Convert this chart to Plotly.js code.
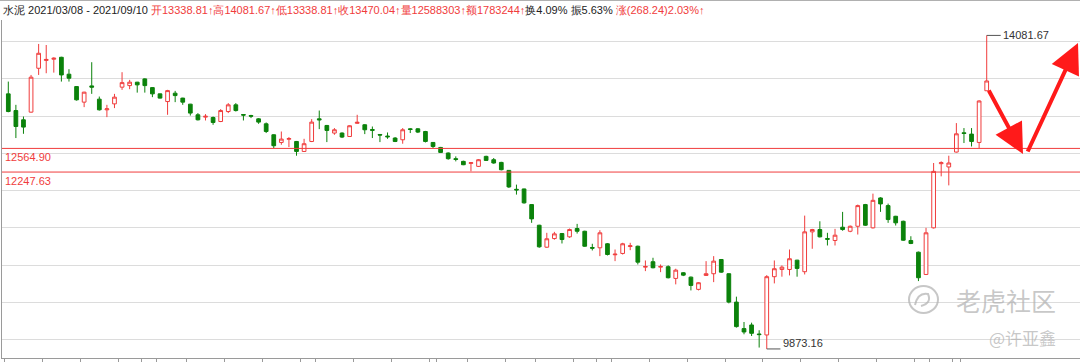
<!DOCTYPE html>
<html>
<head>
<meta charset="utf-8">
<script src="https://cdn.plot.ly/plotly-3.0.1.min.js"></script>
<style>
  html, body { margin: 0; padding: 0; background: #ffffff; }
  #chart { width: 1080px; height: 362px; }
</style>
</head>
<body>
<div id="chart"></div>
<script>
// ---------- trading calendar (2021) ----------
const tradingDays = [
  ['03', [8,9,10,11,12,15,16,17,18,19,22,23,24,25,26,29,30,31]],
  ['04', [1,2,6,7,8,9,12,13,14,15,16,19,20,21,22,23,26,27,28,29,30]],
  ['05', [6,7,10,11,12,13,14,17,18,19,20,21,24,25,26,27,28,31]],
  ['06', [1,2,3,4,7,8,9,10,11,15,16,17,18,21,22,23,24,25,28,29,30]],
  ['07', [1,2,5,6,7,8,9,12,13,14,15,16,19,20,21,22,23,26,27,28,29,30]],
  ['08', [2,3,4,5,6,9,10,11,12,13,16,17,18,19,20,23,24,25,26,27,30,31]],
  ['09', [1,2,3,6,7,8,9,10]]
];
const dates = [];
tradingDays.forEach(([m, days]) => days.forEach(d => dates.push('2021-' + m + '-' + String(d).padStart(2, '0'))));

// ---------- OHLC values ----------
const openV = [
  13297,13073,12949,13052,13641,13746,13762,13788,13561,13395,
  13186,13404,13226,13083,13163,13387,13408,13454,13498,13381,
  13297,13194,13306,13240,13159,13016,12985,12980,12926,13060,
  13150,13020,13006,12962,12895,12748,12645,12688,12658,12524,
  12658,12962,12873,12771,12771,12725,12902,12882,12819,12752,
  12731,12704,12681,12828,12828,12792,12645,12578,12503,12427,
  12391,12364,12324,12458,12413,12377,12270,12016,12021,11811,
  11534,11239,11355,11422,11378,11490,11453,11235,11231,11285,
  11137,11155,11248,11252,10971,11044,10971,10977,10820,10896,
  10837,10673,10860,10883,11074,10883,10502,10146,10195,10074,
  10061,10843,10940,10940,11065,10910,11445,11476,11355,11329,
  11507,11453,11520,11811,11499,11900,11797,11654,11587,11329,
  11172,10873,11499,12360,12316,12516,12775,12757,12645,13338.81
];
const highV = [
  13462,13150,12993,13551,13967,13953,13788,13795,13628,13400,
  13325,13722,13261,13150,13297,13588,13485,13458,13507,13386,
  13300,13351,13337,13245,13163,13039,13025,12993,13092,13173,
  13173,13025,13016,12972,12913,12755,12792,12717,12665,12694,
  12958,13073,12880,12838,12780,12875,13016,12890,12859,12757,
  12779,12717,12838,12838,12838,12800,12650,12585,12511,12458,
  12400,12380,12422,12467,12436,12385,12275,12079,12025,11815,
  11540,11432,11445,11430,11490,11552,11460,11285,11467,11295,
  11208,11298,11298,11260,11061,11097,11007,10995,10950,10904,
  10845,10770,11052,11119,11080,10890,10575,10235,10226,10124,
  10864,11061,10994,11208,11070,11663,11485,11587,11432,11485,
  11713,11530,11811,11820,11958,11910,11824,11660,11595,11386,
  11180,11499,12369,12391,12467,12905,12838,12838,13210,14081.67
];
const lowV = [
  13050,12704,12761,13045,13551,13574,13582,13462,13462,13207,
  13119,13297,13073,12985,13106,13351,13360,13314,13314,13253,
  13235,13016,13186,13150,13006,12940,12940,12882,12918,13039,
  13060,12940,12972,12895,12771,12570,12614,12583,12467,12520,
  12650,12824,12650,12748,12704,12718,12895,12757,12704,12650,
  12694,12650,12628,12771,12771,12645,12570,12505,12413,12391,
  12340,12257,12315,12396,12360,12270,12034,11945,11824,11566,
  11231,11230,11340,11289,11365,11422,11244,11195,11119,11128,
  11052,11141,11199,11007,10918,10955,10904,10820,10740,10851,
  10659,10659,10855,10770,10895,10485,10160,10070,10047,9892,
  9873.16,10753,10843,10860,10843,10873,11218,11370,11262,11262,
  11460,11440,11409,11525,11490,11713,11566,11530,11325,11280,
  10784,10865,11490,12190,12069,12510,12637,12591,12570,13338.81
];
const closeV = [
  13060,12859,12851,13521,13842,13759,13775,13551,13507,13217,
  13320,13387,13083,13096,13253,13448,13454,13418,13408,13297,
  13240,13341,13274,13186,13039,12949,12996,12913,13073,13150,
  13073,13012,12998,12918,12792,12601,12690,12697,12524,12628,
  12918,12949,12806,12815,12717,12869,12915,12815,12808,12744,
  12721,12658,12815,12819,12784,12658,12591,12511,12427,12417,
  12346,12373,12413,12404,12369,12279,12048,12008,11834,11619,
  11244,11352,11418,11342,11476,11453,11252,11226,11432,11141,
  11145,11285,11258,11038,10980,10963,10980,10829,10931,10864,
  10726,10762,10883,11052,10904,10502,10173,10101,10083,10066,
  10843,10950,10971,11084,10954,11445,11476,11378,11346,11400,
  11476,11520,11797,11534,11868,11820,11610,11566,11333,11289,
  10829,11432,12257,12373,12369,12761,12765,12658,13201.8,13470.04
];

// reference levels drawn as red lines
const levels = [12564.90, 12247.63];
// horizontal grid values
const yGrid = [10000, 10500, 11000, 11500, 12000, 12500, 13000, 13500, 14000];
// x-axis ticks (first trading day of each week / month)
const tickDates = ['2021-03-08','2021-03-15','2021-03-22','2021-03-29','2021-04-01','2021-04-06','2021-04-12',
  '2021-04-19','2021-04-26','2021-05-06','2021-05-10','2021-05-17','2021-05-24','2021-05-31','2021-06-01',
  '2021-06-07','2021-06-15','2021-06-21','2021-06-28','2021-07-01','2021-07-05','2021-07-12','2021-07-19',
  '2021-07-26','2021-08-02','2021-08-09','2021-08-16','2021-08-23','2021-08-30','2021-09-01','2021-09-06'];
const tickLabels = ['2021','','','','04','','','','','05','','','','','06','','','','','07','','','','','08','','','','','09',''];

// header text
const title = '水泥';
const period = '2021/03/08 - 2021/09/10';
const hdrRed1 = '开13338.81↑高14081.67↑低13338.81↑收13470.04↑量12588303↑额1783244↑';
const hdrDark = '换4.09% 振5.63%';
const hdrRed2 = '涨(268.24)2.03%↑';

const RED = '#f03c3c';
const GREEN = '#0b820b';

// helpers for extreme labels
const hiIdx = highV.indexOf(Math.max(...highV));
const loIdx = lowV.indexOf(Math.min(...lowV));

const trace = {
  type: 'candlestick',
  x: dates,
  open: openV, high: highV, low: lowV, close: closeV,
  increasing: { line: { color: RED, width: 1 }, fillcolor: '#ffffff' },
  decreasing: { line: { color: GREEN, width: 1 }, fillcolor: GREEN },
  whiskerwidth: 0,
  hoverinfo: 'none',
  showlegend: false
};

const FONT = 'Liberation Sans, Arial, sans-serif';
const CJK = 'Noto Sans CJK SC, Liberation Sans, sans-serif';
const px = v => (v - 2) / 1078;      // pixel x -> paper x
const py = v => (358 - v) / 338;     // pixel y -> paper y
const WM = 'rgba(175,175,175,0.7)';

const shapes = [];
levels.forEach(v => shapes.push({
  type: 'line', xref: 'paper', x0: 0, x1: 1, yref: 'y', y0: v, y1: v,
  line: { color: RED, width: 1 }, layer: 'above'
}));
// top frame line
shapes.push({ type: 'line', xref: 'paper', x0: -0.01, x1: 1.01, yref: 'paper', y0: py(0.5), y1: py(0.5),
  line: { color: '#b0b0b0', width: 1 } });
// low label leader
shapes.push({ type: 'line', xref: 'x', x0: loIdx, x1: loIdx + 1.8, yref: 'y', y0: lowV[loIdx], y1: lowV[loIdx],
  line: { color: '#555555', width: 1 } });
// watermark logo
shapes.push({ type: 'circle', xref: 'paper', yref: 'paper', layer: 'above',
  x0: px(909), x1: px(938), y0: py(313), y1: py(286),
  line: { color: WM, width: 2 } });
shapes.push({ type: 'path', xref: 'paper', yref: 'paper', layer: 'above',
  path: 'M ' + px(915) + ',' + py(305) + ' Q ' + px(918) + ',' + py(292) + ' ' + px(928) + ',' + py(294) +
        ' Q ' + px(932) + ',' + py(303) + ' ' + px(921) + ',' + py(306),
  line: { color: WM, width: 2 } });

const annotations = [
  {
    xref: 'paper', yref: 'paper', x: 0, y: 1, xanchor: 'left', yanchor: 'bottom', xshift: -1, yshift: 2,
    showarrow: false, align: 'left',
    font: { family: FONT, size: 11, color: '#222222' },
    text: title + ' ' + period + ' <span style="color:' + RED + '">' + hdrRed1 + '</span>' + hdrDark +
          ' <span style="color:' + RED + '">' + hdrRed2 + '</span>'
  },
  {
    xref: 'x', yref: 'y', x: hiIdx, y: highV[hiIdx], showarrow: true, arrowhead: 0, arrowwidth: 1,
    arrowcolor: '#555555', ax: 14, ay: 0, xanchor: 'left', yanchor: 'middle', standoff: 0,
    text: highV[hiIdx].toFixed(2), font: { family: FONT, size: 11, color: '#333333' }
  },
  {
    xref: 'x', yref: 'y', x: loIdx + 1.9, y: lowV[loIdx], showarrow: false, xanchor: 'left', yanchor: 'middle',
    yshift: 6, text: lowV[loIdx].toFixed(2), font: { family: FONT, size: 11, color: '#333333' }
  },
  // hand-drawn style arrows
  {
    xref: 'paper', yref: 'paper', x: px(1023), y: py(154), ax: -35, ay: -65,
    showarrow: true, arrowhead: 2, arrowsize: 1.5, arrowwidth: 4, arrowcolor: '#ff1a1a', text: '', standoff: 0
  },
  {
    xref: 'paper', yref: 'paper', x: px(1078), y: py(43), ax: -51, ay: 110,
    showarrow: true, arrowhead: 2, arrowsize: 1.5, arrowwidth: 4, arrowcolor: '#ff1a1a', text: '', standoff: 0
  },
  // watermark
  {
    xref: 'paper', yref: 'paper', x: px(1006), y: py(300), xanchor: 'center', yanchor: 'middle', showarrow: false,
    text: '老虎社区', font: { family: CJK, size: 25, color: WM }
  },
  {
    xref: 'paper', yref: 'paper', x: px(1022), y: py(337), xanchor: 'center', yanchor: 'middle', showarrow: false,
    text: '@许亚鑫', font: { family: CJK, size: 17, color: WM }
  }
];
levels.forEach(v => annotations.push({
  xref: 'paper', yref: 'y', x: 0, y: v, xanchor: 'left', yanchor: 'top', xshift: 1, yshift: -1,
  showarrow: false, text: v.toFixed(2), font: { family: FONT, size: 11, color: RED }
}));

const layout = {
  width: 1080, height: 362,
  margin: { l: 2, r: 0, t: 20, b: 4, pad: 0 },
  paper_bgcolor: '#ffffff', plot_bgcolor: '#ffffff',
  showlegend: false, hovermode: false, dragmode: false,
  font: { family: FONT, size: 11, color: '#333333' },
  xaxis: {
    type: 'category', range: [-0.83, 141.3], rangeslider: { visible: false },
    showgrid: false, zeroline: false, showline: true, linecolor: '#9a9a9a', linewidth: 1,
    ticks: 'outside', ticklen: 4, tickcolor: '#9a9a9a', tickson: 'boundaries',
    tickmode: 'array', tickvals: tickDates, ticktext: tickLabels,
    tickfont: { family: FONT, size: 11, color: '#666666' }, fixedrange: true
  },
  yaxis: {
    range: [9751.7, 14288.6], tickmode: 'array', tickvals: yGrid, showticklabels: false,
    showgrid: true, gridcolor: '#dcdcdc', gridwidth: 1, zeroline: false,
    showline: true, linecolor: '#9a9a9a', linewidth: 1, ticks: '', fixedrange: true
  },
  shapes: shapes,
  annotations: annotations
};

Plotly.newPlot('chart', [trace], layout, { staticPlot: true, displayModeBar: false });
</script>
</body>
</html>
